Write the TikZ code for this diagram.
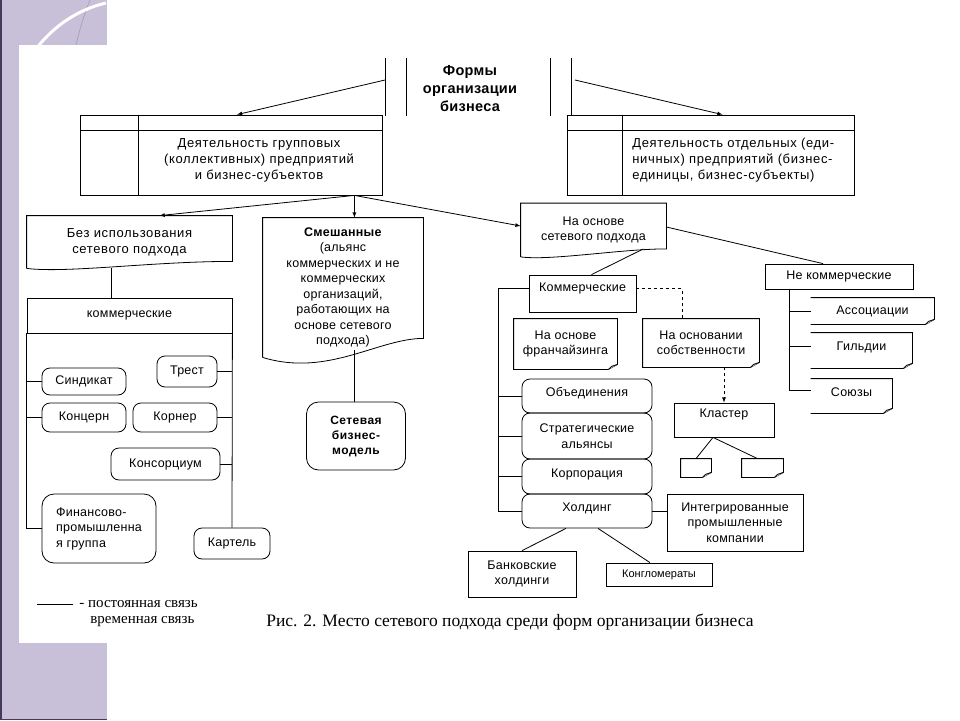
\documentclass[tikz,border=0pt]{standalone}
\usepackage{fontspec}
\setmainfont{Liberation Sans}
\newfontfamily\capfont{Liberation Serif}
\usepackage{tikz}
\usetikzlibrary{arrows}
\usetikzlibrary{calc}
\usetikzlibrary{positioning}
\definecolor{lavender}{RGB}{200,191,217}
\definecolor{lavenderdark}{RGB}{70,58,90}

\newcommand{\dogear}[1]{%
  \draw (#1.north west) -- (#1.north east) -- ([yshift=5pt]#1.south east) -- ([xshift=-9pt]#1.south east) -- (#1.south west) -- cycle;
  \draw[fill=gray!40] ([yshift=5pt]#1.south east) -- ([xshift=-6pt,yshift=3pt]#1.south east) -- ([xshift=-9pt]#1.south east);}
\newcommand{\openear}[1]{%
  \draw (#1.north west) -- (#1.north east) -- ([yshift=5pt]#1.south east) -- ([xshift=-9pt]#1.south east) -- (#1.south west);
  \draw[fill=gray!40] ([yshift=5pt]#1.south east) -- ([xshift=-6pt,yshift=3pt]#1.south east) -- ([xshift=-9pt]#1.south east);}

\begin{document}
\begin{tikzpicture}[
  x=1pt, y=-1pt, line width=0.8pt,
  > = latex,
  plain/.style = {align=center, inner sep=1pt, font=\fontsize{12.5}{15.5}\selectfont\addfontfeature{LetterSpace=2}},
  wide/.style = {plain, font=\fontsize{13}{16}\selectfont\addfontfeature{LetterSpace=5}},
  box/.style = {plain, draw},
  rbox/.style = {box, rounded corners=8pt},
  legend/.style = {inner sep=0pt, font=\capfont\fontsize{15}{17}\selectfont}
  ]
  \useasboundingbox (0,0) rectangle (960,720);
  \fill[white] (0,0) rectangle (960,720);
  \fill[lavender] (0,0) rectangle (107,720);
  \draw[lavenderdark, line width=1.5pt] (0.75,0) -- (0.75,719.25) -- (107,719.25);
  \draw[lavenderdark!50, line width=0.6pt] (76,45) .. controls (80,28) and (85,12) .. (90,0);
  \draw[white, line width=3pt] (20,75) .. controls (38,38) and (68,12) .. (106,3);
  \fill[white] (19,45) rectangle (940,643);

  \node[plain, font=\bfseries\fontsize{14.5}{18}\selectfont\addfontfeature{LetterSpace=2}] (forms) at (470,89) {Формы\\организации\\бизнеса};
  \draw (385,58) -- (385,116);
  \draw (406,58) -- (406,116);
  \draw (550,58) -- (550,116);
  \draw (571,58) -- (571,115);
  \coordinate (barL) at (385,80);
  \coordinate (barR) at (575,80);

  \node[box, minimum width=302pt, minimum height=80pt] (grp) at (231,155) {};
  \draw (grp.north west) ++(0,16) -- ++(302,0);
  \draw (grp.north west) ++(59,0) -- ++(0,80);
  \node[wide] (grptxt) at (259,160) {Деятельность групповых\\(коллективных) предприятий\\и бизнес-субъектов};

  \node[box, minimum width=287pt, minimum height=80pt] (ind) at (710.5,155) {};
  \draw (ind.north west) ++(0,16) -- ++(287,0);
  \draw (ind.north west) ++(56,0) -- ++(0,80);
  \node[wide, align=left, anchor=west] (indtxt) at (631,160) {Деятельность отдельных (еди-\\ничных) предприятий (бизнес-\\единицы, бизнес-субъекты)};

  \draw[->] (barL) -- ([xshift=6pt]grp.north);
  \draw[->] (barR) -- ([xshift=12pt]ind.north);

  \node[wide, minimum width=205pt, minimum height=52pt] (noN) at (129.5,242) {Без использования\\сетевого подхода};
  \draw (noN.south west) -- (noN.north west) -- (noN.north east) -- ([yshift=7pt]noN.south east) .. controls +(-80,0) and +(40,5) .. (noN.south west);

  \node[plain, minimum width=160pt, minimum height=139pt] (mix) at (343,287.5) {\textbf{Смешанные}\\(альянс\\коммерческих и не\\коммерческих\\организаций,\\работающих на\\основе сетевого\\подхода)};
  \draw (mix.south west) -- (mix.north west) -- (mix.north east) -- ([yshift=19pt]mix.south east) .. controls +(-45,0) and +(65,20) .. (mix.south west);

  \node[plain, minimum width=145pt, minimum height=53pt] (netA) at (593.5,230) {На основе\\сетевого подхода};
  \draw (netA.south west) -- (netA.north west) -- (netA.north east) -- ([yshift=8pt]netA.south east) .. controls +(-45,0) and +(30,4) .. (netA.south west);

  \coordinate (fork) at ([xshift=-28pt]grp.south east);
  \draw[->] (fork) -- ([xshift=30pt]noN.north);
  \draw[->] (fork) -- (fork |- mix.north);
  \draw[->] (fork) -- ([yshift=4pt]netA.west);

  \node[box, minimum width=205pt, minimum height=35pt] (kom) at (129.5,315.5) {коммерческие};
  \node[rbox, minimum width=84pt, minimum height=27pt] (sind) at (84,381.5) {Синдикат};
  \node[rbox, minimum width=60pt, minimum height=31pt] (trest) at (187,371.5) {Трест};
  \node[rbox, minimum width=84pt, minimum height=29pt] (konc) at (84,417.5) {Концерн};
  \node[rbox, minimum width=84pt, minimum height=29pt] (korner) at (175,417.5) {Корнер};
  \node[rbox, minimum width=109pt, minimum height=32pt] (konsort) at (165.5,464) {Консорциум};
  \node[rbox, align=left, minimum width=114pt, minimum height=69pt, rounded corners=12pt] (fin) at (99,528.5) {Финансово-\\промышленна\\я группа};
  \node[rbox, minimum width=76pt, minimum height=31pt] (kart) at (232,543.5) {Картель};

  \draw ([xshift=-18pt]kom.north) -- ([xshift=-18pt]kom.north |- noN.south);
  \draw (kom.south west) |- (fin.west);
  \draw (sind.west) -- (sind.west -| kom.west);
  \draw (konc.west) -- (konc.west -| kom.west);
  \draw (kom.south east) -- (kart.north);
  \draw (trest.east) -- (trest.east -| kom.east);
  \draw (korner.east) -- (korner.east -| kom.east);
  \draw (konsort.east) -- (konsort.east -| kom.east);

  \node[rbox, minimum width=99pt, minimum height=68pt, rounded corners=12pt, font=\bfseries\fontsize{12}{15}\selectfont\addfontfeature{LetterSpace=4}] (model) at (356,436) {Сетевая\\бизнес-\\модель};
  \draw ([xshift=-2pt]model.north) -- ([xshift=-2pt,yshift=7pt]model.north |- mix.south);

  \node[box, minimum width=107pt, minimum height=37pt, text depth=12pt] (Kom) at (582.5,293.5) {Коммерческие};
  \node[plain, minimum width=103pt, minimum height=50pt] (fran) at (565.5,344) {На основе\\франчайзинга};
  \dogear{fran}
  \node[plain, minimum width=116pt, minimum height=48pt] (sobst) at (701,343) {На основании\\собственности};
  \dogear{sobst}
  \node[box, minimum width=100pt, minimum height=34pt, text depth=13pt] (klaster) at (724,420) {Кластер};
  \node[minimum width=30pt, minimum height=18pt, inner sep=0pt] (s1) at (696,468) {};
  \dogear{s1}
  \node[minimum width=41pt, minimum height=18pt, inner sep=0pt] (s2) at (762.5,468) {};
  \dogear{s2}

  \node[rbox, minimum width=130pt, minimum height=34pt, text depth=9pt] (ob) at (587,396) {Объединения};
  \node[rbox, minimum width=130pt, minimum height=46pt] (strat) at (587,436) {Стратегические\\альянсы};
  \node[rbox, minimum width=130pt, minimum height=35pt, text depth=7pt] (korp) at (587,476.5) {Корпорация};
  \node[rbox, minimum width=130pt, minimum height=34pt, text depth=7pt] (hold) at (587,511) {Холдинг};
  \node[box, minimum width=136pt, minimum height=57pt] (integ) at (735,522.5) {Интегрированные\\промышленные\\компании};
  \node[box, minimum width=108pt, minimum height=46pt] (bank) at (522,574) {Банковские\\холдинги};
  \node[box, minimum width=106pt, minimum height=23pt, font=\fontsize{11}{13}\selectfont] (kong) at (659,574.5) {Конгломераты};

  \draw ([xshift=-23pt,yshift=8pt]netA.south east) -- ([xshift=9pt]Kom.north);
  \coordinate (spine) at ([xshift=-30pt,yshift=5pt]Kom.west);
  \draw ([yshift=5pt]Kom.west) -- (spine) |- (hold.west);
  \draw (ob.west) -- (ob.west -| spine);
  \draw (strat.west) -- (strat.west -| spine);
  \draw (korp.west) -- (korp.west -| spine);
  \draw[dashed] ([yshift=5pt]Kom.east) -| ([xshift=-19pt]sobst.north);
  \draw[dashed,->] (sobst.south -| klaster.north) -- (klaster.north);
  \draw ([xshift=-11pt]klaster.south) -- (s1.north);
  \draw ([xshift=-11pt]klaster.south) -- ([xshift=-5pt]s2.north);
  \draw (hold.east) -- (hold.east -| integ.west);
  \draw ([xshift=-21pt]hold.south) -- (bank.north);
  \draw ([xshift=11pt]hold.south) -- ([xshift=-9pt]kong.north);

  \node[box, minimum width=148pt, minimum height=25pt] (nkom) at (839,276.5) {Не коммерческие};
  \node[plain, minimum width=123pt, minimum height=26pt] (assoc) at (872.5,311) {Ассоциации};
  \openear{assoc}
  \node[plain, minimum width=101pt, minimum height=35pt, text depth=9pt] (gild) at (861.5,350.5) {Гильдии};
  \openear{gild}
  \node[plain, minimum width=81pt, minimum height=34pt, text depth=8.5pt] (soyuz) at (851.5,396) {Союзы};
  \openear{soyuz}

  \draw ([yshift=3pt]netA.east) -- ([xshift=-16pt]nkom.north);
  \coordinate (nspine) at ([xshift=-50pt]nkom.south);
  \draw (nspine) |- ([yshift=6pt]soyuz.west);
  \draw (assoc.west) -- (assoc.west -| nspine);
  \draw ([yshift=4.5pt]gild.west) -- ([yshift=4.5pt]gild.west -| nspine);

  \node[legend, anchor=west] (perm) at (79,604) {- постоянная связь};
  \node[legend, anchor=west] (temp) at (90,622) {временная связь};
  \coordinate (legL) at (37,604);
  \draw (legL) -- ([xshift=-6pt]perm.west);
  \node[inner sep=0pt, font=\capfont\fontsize{17.5}{20}\selectfont] (caption) at (510,622) {Рис. 2. Место сетевого подхода среди форм организации бизнеса};
\end{tikzpicture}
\end{document}
